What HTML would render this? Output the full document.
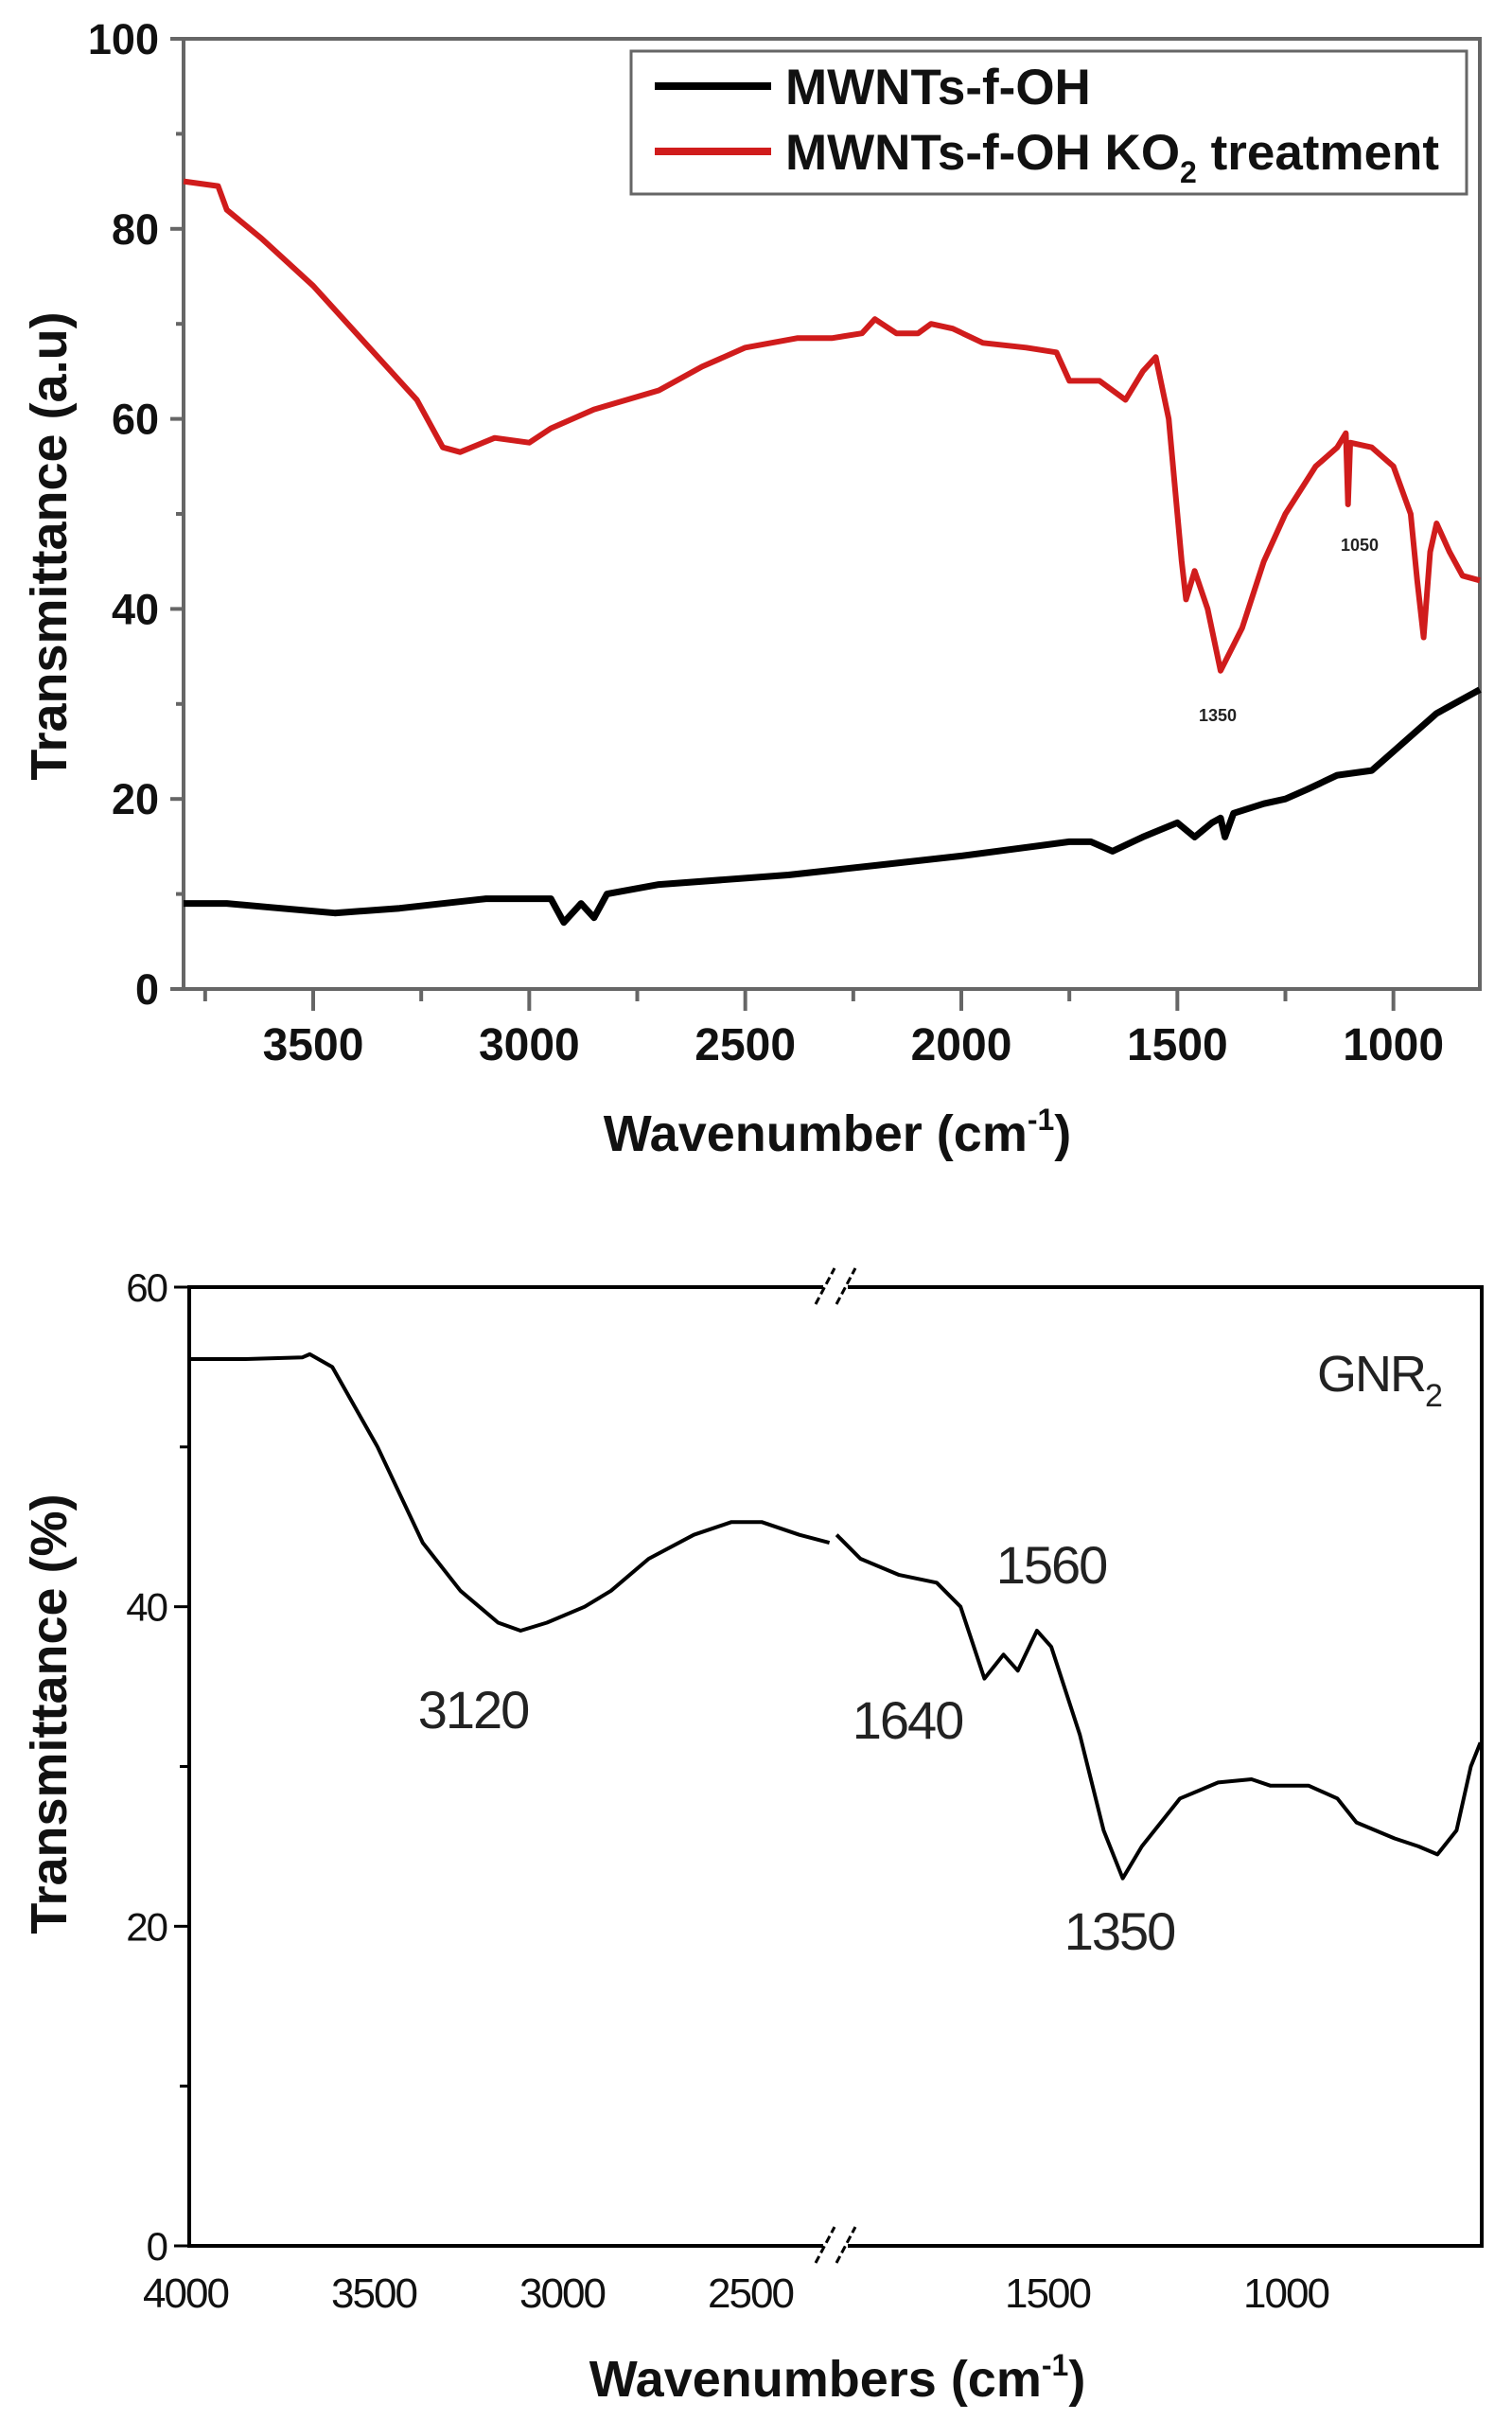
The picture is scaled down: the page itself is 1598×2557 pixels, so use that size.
<!DOCTYPE html>
<html><head><meta charset="utf-8"><style>
html,body{margin:0;padding:0;background:#fff;}
svg{display:block;}
</style></head><body>
<svg id="fig" width="1598" height="2557" viewBox="0 0 1598 2557" xmlns="http://www.w3.org/2000/svg" font-family="Liberation Sans, Arial, sans-serif">
<rect width="1598" height="2557" fill="#fff"/>
<g id="top"></g>
<g id="bot"></g>
</svg>
<script>
// ---- Top chart data ----
const topBlackWn = [3800,3700,3600,3450,3300,3100,2950,2920,2880,2850,2820,2700,2400,2200,2000,1750,1700,1650,1580,1500,1460,1420,1400,1390,1370,1300,1250,1200,1130,1050,1000,950,900,800];
const topBlackT  = [9,9,8.6,8,8.5,9.5,9.5,7,9,7.5,10,11,12,13,14,15.5,15.5,14.5,16,17.5,16,17.5,18,16,18.5,19.5,20,21,22.5,23,25,27,29,31.5];
const topRedWn = [3800,3720,3700,3620,3500,3380,3260,3200,3160,3080,3000,2950,2850,2700,2600,2500,2380,2300,2230,2200,2150,2100,2070,2020,1950,1850,1780,1750,1680,1620,1580,1550,1520,1490,1480,1460,1430,1400,1350,1300,1250,1180,1130,1110,1105,1100,1050,1000,960,945,930,915,900,870,840,800];
const topRedT  = [85,84.5,82,79,74,68,62,57,56.5,58,57.5,59,61,63,65.5,67.5,68.5,68.5,69,70.5,69,69,70,69.5,68,67.5,67,64,64,62,65,66.5,60,45,41,44,40,33.5,38,45,50,55,57,58.5,51,57.5,57,55,50,43,37,46,49,46,43.5,43];
const topYTicks = [0,20,40,60,80,100];
const topXTicks = [3500,3000,2500,2000,1500,1000];
// ---- Bottom chart data ----
const botLeftWn = [4000,3850,3700,3680,3620,3500,3380,3280,3180,3120,3050,2950,2880,2780,2660,2560,2480,2380,2300];
const botLeftT  = [55.5,55.5,55.6,55.8,55,50,44,41,39,38.5,39,40,41,43,44.5,45.3,45.3,44.5,44];
const botRightWn = [1950,1900,1820,1740,1690,1640,1600,1570,1530,1500,1440,1390,1350,1310,1230,1150,1080,1040,960,900,860,780,730,690,650,620,600];
const botRightT  = [44.5,43,42,41.5,40,35.5,37,36,38.5,37.5,32,26,23,25,28,29,29.2,28.8,28.8,28,26.5,25.5,25,24.5,26,30,31.5];
const botYTicks = [0,20,40,60];
const botXTicksLeft = [4000,3500,3000,2500];
const botXTicksRight = [1500,1000];

const NS="http://www.w3.org/2000/svg";
function mk(parent,tag,attrs,text){const e=document.createElementNS(NS,tag);for(const k in attrs)e.setAttribute(k,attrs[k]);if(text!==undefined)e.textContent=text;parent.appendChild(e);return e;}

// ===== TOP =====
const T=document.getElementById('top');
const tx=w=>194+(3800-w)/3000*(1564-194);
const ty=v=>1045-v/100*(1045-41);
let e;
e=mk(T,'rect',{x:194,y:41,width:1370,height:1004,fill:'none',stroke:'#666',"stroke-width":4});

topYTicks.forEach(v=>{
  e=mk(T,'line',{x1:180,x2:194,y1:ty(v),y2:ty(v),stroke:'#666','stroke-width':4});
  
  e=mk(T,'text',{x:168,y:ty(v)+16,'text-anchor':'end','font-size':45,'font-weight':'bold',fill:'#111'},String(v));
  
  if(v<100){e=mk(T,'line',{x1:186,x2:194,y1:ty(v+10),y2:ty(v+10),stroke:'#666','stroke-width':4});
  }
});
topXTicks.forEach(w=>{
  e=mk(T,'line',{x1:tx(w),x2:tx(w),y1:1045,y2:1068,stroke:'#666','stroke-width':4});
  
  e=mk(T,'line',{x1:tx(w+250),x2:tx(w+250),y1:1045,y2:1058,stroke:'#666','stroke-width':4});
  
  e=mk(T,'text',{x:tx(w),y:1120,'text-anchor':'middle','font-size':48,'font-weight':'bold',fill:'#111'},String(w));
  
});
function poly(parent,wn,vals,fx,fy,color,w,name){
  const pts=wn.map((x,i)=>fx(x).toFixed(1)+','+fy(vals[i]).toFixed(1)).join(' ');
  const p=mk(parent,'polyline',{points:pts,fill:'none',stroke:color,'stroke-width':w,'stroke-linejoin':'round'});
  
}
poly(T,topBlackWn,topBlackT,tx,ty,'#000',7,'mwnts-f-oh-line');
poly(T,topRedWn,topRedT,tx,ty,'#d01c1c',6,'mwnts-ko2-line');
e=mk(T,'text',{x:1287,y:762,'text-anchor':'middle','font-size':18,'font-weight':'bold',fill:'#222'},'1350');

e=mk(T,'text',{x:1437,y:582,'text-anchor':'middle','font-size':18,'font-weight':'bold',fill:'#222'},'1050');

// legend
const L=mk(T,'g',{});

mk(L,'rect',{x:667,y:54,width:883,height:151,fill:'#fff',stroke:'#666','stroke-width':3});
mk(L,'line',{x1:692,x2:815,y1:91,y2:91,stroke:'#000','stroke-width':8});
e=mk(L,'text',{x:830,y:110,'font-size':53,'font-weight':'bold',fill:'#111'},'MWNTs-f-OH');

mk(L,'line',{x1:692,x2:815,y1:160,y2:160,stroke:'#d01c1c','stroke-width':8});
e=mk(L,'text',{x:830,y:179,'font-size':53,'font-weight':'bold',fill:'#111'});

e.innerHTML='MWNTs-f-OH KO<tspan font-size="32" dy="14">2</tspan><tspan dy="-14"> treatment</tspan>';
e=mk(T,'text',{x:0,y:0,'text-anchor':'middle','font-size':54,'font-weight':'bold',fill:'#111',transform:'translate(70,577) rotate(-90)'},'Transmittance (a.u)');

e=mk(T,'text',{x:885,y:1216,'text-anchor':'middle','font-size':54,'font-weight':'bold',fill:'#111'});

e.innerHTML='Wavenumber (cm<tspan font-size="32" dy="-22">-1</tspan><tspan dy="22">)</tspan>';

// ===== BOTTOM =====
const B=document.getElementById('bot');
const bx=w=> w>=2100 ? 200+(4000-w)/500*199 : 1111+(1500-w)/500*252;
const by=v=>2373-v/60*(2373-1360);
e=mk(B,'rect',{x:200,y:1360,width:1366,height:1013,fill:'none',stroke:'#000','stroke-width':4});

for(let v=0;v<=60;v+=10){
  e=mk(B,'line',{x1:v%20===0?184:190,x2:200,y1:by(v),y2:by(v),stroke:'#000','stroke-width':3});
  
}
botYTicks.forEach(v=>{
  e=mk(B,'text',{x:176,y:by(v)+15,'text-anchor':'end','font-size':42,fill:'#111','letter-spacing':-2},String(v));
  
});
botXTicksLeft.concat(botXTicksRight).forEach(w=>{
  e=mk(B,'text',{x:bx(w)-4,y:2438,'text-anchor':'middle','font-size':44,fill:'#111','letter-spacing':-2},String(w));
  
});
// axis breaks
[1360,2373].forEach(yy=>{
  const g=mk(B,'g',{});
  
  mk(g,'rect',{x:870,y:yy-8,width:26,height:16,fill:'#fff'});
  mk(g,'line',{x1:862,y1:yy+18,x2:882,y2:yy-20,stroke:'#000','stroke-width':3,'stroke-dasharray':'8,4'});
  mk(g,'line',{x1:884,y1:yy+18,x2:904,y2:yy-20,stroke:'#000','stroke-width':3,'stroke-dasharray':'8,4'});
});
poly(B,botLeftWn,botLeftT,bx,by,'#000',4,'gnr2-line-left');
poly(B,botRightWn,botRightT,bx,by,'#000',4,'gnr2-line-right');
[['3120',500,1826],['1640',959,1837],['1560',1111,1673],['1350',1183,2060]].forEach(a=>{
  e=mk(B,'text',{x:a[1],y:a[2],'text-anchor':'middle','font-size':56,fill:'#222','letter-spacing':-2},a[0]);
  
});
e=mk(B,'text',{x:1392,y:1470,'font-size':54,fill:'#222','letter-spacing':-2});

e.innerHTML='GNR<tspan font-size="34" dy="16">2</tspan>';
e=mk(B,'text',{x:0,y:0,'text-anchor':'middle','font-size':54,'font-weight':'bold',fill:'#111',transform:'translate(70,1811) rotate(-90)'},'Transmittance (%)');

e=mk(B,'text',{x:885,y:2532,'text-anchor':'middle','font-size':54,'font-weight':'bold',fill:'#111'});

e.innerHTML='Wavenumbers (cm<tspan font-size="32" dy="-22">-1</tspan><tspan dy="22">)</tspan>';
</script>
</body></html>
